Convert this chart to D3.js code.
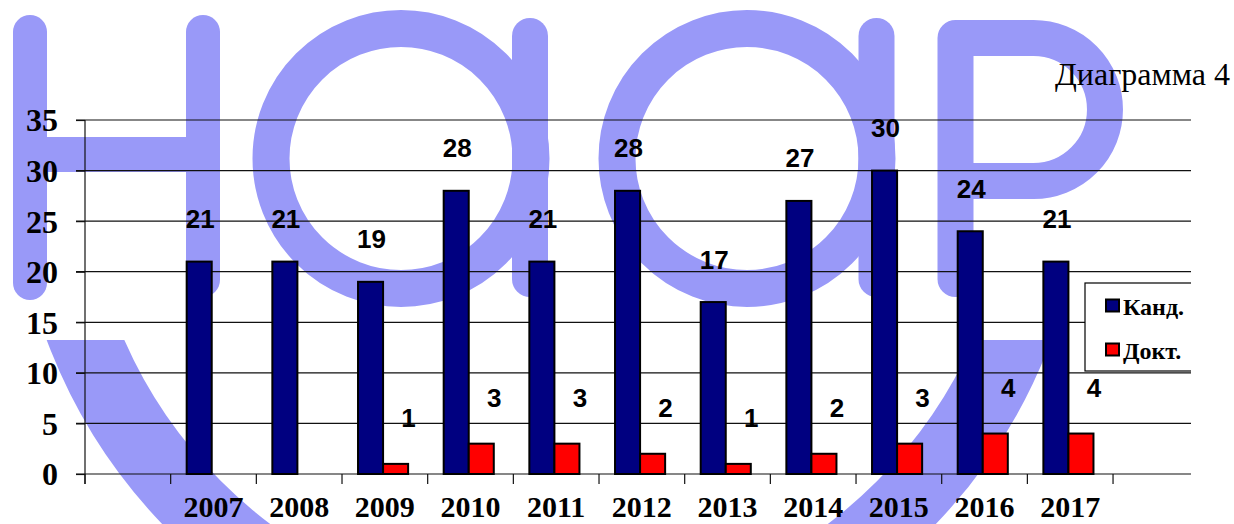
<!DOCTYPE html>
<html>
<head>
<meta charset="utf-8">
<script src="https://cdn.jsdelivr.net/npm/d3@7"></script>
<style>
  html, body { margin: 0; padding: 0; background: #fff; }
  svg { display: block; }
</style>
</head>
<body>
<div id="chart"></div>
<script>
// ---- data ----
const categories = ["2007", "2008", "2009", "2010", "2011", "2012", "2013", "2014", "2015", "2016", "2017"];
const seriesNames = ["Канд.", "Докт."];
const kandValues = [21, 21, 19, 28, 21, 28, 17, 27, 30, 24, 21];
const doktValues = [null, null, 1, 3, 3, 2, 1, 2, 3, 4, 4];
const yTickValues = [0, 5, 10, 15, 20, 25, 30, 35];
const chartTitle = "Диаграмма 4";

// ---- layout ----
const W = 1234, H = 524;
const plotLeft = 85, plotTop = 120, plotBottom = 474;
const slot = 85.67;
const plotRight = plotLeft + slot * (categories.length + 2);
const clipRight = 1191;
const colors = { "Канд.": "#000080", "Докт.": "#ff0000" };
const wmColor = "#9999f8";

const svg = d3.select("#chart").append("svg")
  .attr("width", W).attr("height", H)
  .attr("viewBox", `0 0 ${W} ${H}`);

svg.append("rect").attr("width", W).attr("height", H).attr("fill", "#fff");

// ---- watermark (decorative background) ----
const wm = svg.append("g").attr("class", "watermark");
const defs = svg.append("defs");
defs.append("clipPath").attr("id", "arcClip")
  .append("rect").attr("x", 0).attr("y", 340).attr("width", W).attr("height", H - 340);
defs.append("clipPath").attr("id", "plotClip")
  .append("rect").attr("x", 0).attr("y", 0).attr("width", clipRight).attr("height", H);

// Н
wm.append("line").attr("x1", 30).attr("y1", 32).attr("x2", 30).attr("y2", 283)
  .attr("stroke", wmColor).attr("stroke-width", 34).attr("stroke-linecap", "round");
wm.append("line").attr("x1", 203).attr("y1", 32).attr("x2", 203).attr("y2", 280)
  .attr("stroke", wmColor).attr("stroke-width", 34).attr("stroke-linecap", "round");
wm.append("line").attr("x1", 30).attr("y1", 154.5).attr("x2", 203).attr("y2", 154.5)
  .attr("stroke", wmColor).attr("stroke-width", 35);
// а, а
[[401, 530], [747, 876.5]].forEach(([cx, sx]) => {
  wm.append("circle").attr("cx", cx).attr("cy", 158.5).attr("r", 130)
    .attr("fill", "none").attr("stroke", wmColor).attr("stroke-width", 37);
  wm.append("line").attr("x1", sx).attr("y1", 36).attr("x2", sx).attr("y2", 279)
    .attr("stroke", wmColor).attr("stroke-width", 36).attr("stroke-linecap", "round");
});
// Р
wm.append("path")
  .attr("d", "M955.5,279 V38 H1033.5 A71.5,71.5 0 0 1 1033.5,181 H955.5")
  .attr("fill", "none").attr("stroke", wmColor).attr("stroke-width", 36)
  .attr("stroke-linecap", "round").attr("stroke-linejoin", "round");
// big lower arc
wm.append("circle").attr("cx", 549).attr("cy", 153).attr("r", 500)
  .attr("fill", "none").attr("stroke", wmColor).attr("stroke-width", 72)
  .attr("clip-path", "url(#arcClip)");

// ---- scales ----
const x0 = d3.scaleBand().domain(categories)
  .range([plotLeft, plotRight]).paddingInner(0).paddingOuter(1);
const x1 = d3.scaleBand().domain(seriesNames)
  .range([0, x0.bandwidth()]).paddingInner(0).paddingOuter(0.71).align(0.45);
const y = d3.scaleLinear().domain([0, 35]).range([plotBottom, plotTop]);

const plot = svg.append("g").attr("clip-path", "url(#plotClip)");

// gridlines
plot.append("g").selectAll("line").data(yTickValues).join("line")
  .attr("x1", 76).attr("x2", clipRight)
  .attr("y1", d => y(d)).attr("y2", d => y(d))
  .attr("stroke", "#111").attr("stroke-width", 1.2);

// y axis
const yAxis = d3.axisLeft(y).tickValues(yTickValues).tickSize(9).tickPadding(18);
const gy = svg.append("g").attr("transform", `translate(${plotLeft},0)`).call(yAxis);
gy.select(".domain").remove();
gy.selectAll(".tick line").attr("stroke", "#111").attr("stroke-width", 1.2);
gy.selectAll(".tick text")
  .attr("font-family", "'Liberation Serif', 'Times New Roman', serif")
  .attr("font-weight", "bold").attr("font-size", 32).attr("fill", "#000")
  .attr("dy", "0.34em");
svg.append("line").attr("x1", plotLeft).attr("x2", plotLeft)
  .attr("y1", y(35)).attr("y2", plotBottom + 10)
  .attr("stroke", "#111").attr("stroke-width", 1.2);

// x ticks at band boundaries
const boundaries = d3.range(categories.length + 3).map(i => plotLeft + i * x0.step());
plot.append("g").selectAll("line").data(boundaries).join("line")
  .attr("x1", d => d).attr("x2", d => d)
  .attr("y1", plotBottom).attr("y2", plotBottom + 10)
  .attr("stroke", "#111").attr("stroke-width", 1.2);

// x labels
svg.append("g").selectAll("text").data(categories).join("text")
  .attr("x", d => x0(d) + x0.bandwidth() / 2)
  .attr("y", 517)
  .attr("text-anchor", "middle")
  .attr("font-family", "'Liberation Serif', 'Times New Roman', serif")
  .attr("font-weight", "bold").attr("font-size", 30).attr("fill", "#000")
  .text(d => d);

// bars
const rows = categories.map((c, i) => ({ cat: c, vals: [
  { s: seriesNames[0], v: kandValues[i] },
  { s: seriesNames[1], v: doktValues[i] }
]}));

const groups = plot.append("g").selectAll("g").data(rows).join("g")
  .attr("transform", d => `translate(${x0(d.cat)},0)`);

groups.selectAll("rect").data(d => d.vals.filter(e => e.v != null)).join("rect")
  .attr("x", d => x1(d.s))
  .attr("y", d => y(d.v))
  .attr("width", x1.bandwidth())
  .attr("height", d => y(0) - y(d.v))
  .attr("fill", d => colors[d.s])
  .attr("stroke", "#000").attr("stroke-width", 2);

// value labels
groups.selectAll("text").data(d => d.vals.filter(e => e.v != null)).join("text")
  .attr("x", d => x1(d.s) + x1.bandwidth() / 2 + (d.s === seriesNames[0] ? 1 : 13))
  .attr("y", d => y(d.v) - (d.s === seriesNames[0] ? 33.5 : 36.5))
  .attr("text-anchor", "middle")
  .attr("font-family", "'Liberation Sans', Arial, sans-serif")
  .attr("font-weight", "bold").attr("font-size", 26).attr("fill", "#000")
  .text(d => d.v);

// legend
const lg = plot.append("g");
lg.append("rect").attr("x", 1085).attr("y", 283).attr("width", 140).attr("height", 88)
  .attr("fill", "#fff").attr("stroke", "#000").attr("stroke-width", 1.2);
seriesNames.forEach((s, i) => {
  lg.append("rect").attr("x", 1106).attr("y", 299.5 + i * 44).attr("width", 13).attr("height", 12)
    .attr("fill", colors[s]).attr("stroke", "#000").attr("stroke-width", 2);
  lg.append("text").attr("x", 1123).attr("y", 315 + i * 43.5)
    .attr("font-family", "'Liberation Serif', 'Times New Roman', serif")
    .attr("font-weight", "bold").attr("font-size", 24).attr("fill", "#000")
    .text(s);
});

// title
svg.append("text").attr("x", 1230).attr("y", 85).attr("text-anchor", "end")
  .attr("font-family", "'Liberation Serif', 'Times New Roman', serif")
  .attr("font-size", 32).attr("fill", "#000")
  .text(chartTitle);
</script>
</body>
</html>
